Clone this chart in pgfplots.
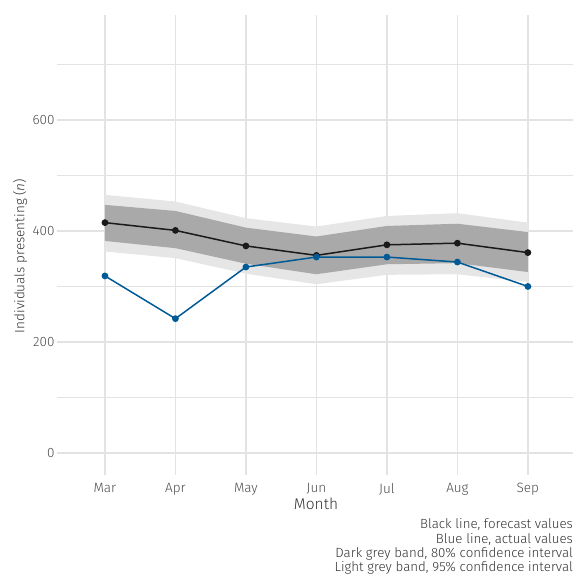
\documentclass[border=0pt]{standalone}
\usepackage{fontspec}
\IfFontExistsTF{Fira Sans Light}
  {\setmainfont{Fira Sans Light}[ItalicFont={Fira Sans Light Italic}]}
  {\setmainfont{Open Sans}}
\usepackage{pgfplots}
\pgfplotsset{compat=1.18}
\definecolor{actualblue}{HTML}{005A96}
\definecolor{fcblack}{HTML}{1A1A1A}
\definecolor{band80}{HTML}{A9A9A9}
\definecolor{band95}{HTML}{E6E6E6}
\definecolor{gridgrey}{HTML}{E3E3E3}
\definecolor{ticktext}{HTML}{4D4D4D}
\definecolor{titletext}{HTML}{333333}
\begin{document}
\begin{tikzpicture}[x=1pt,y=1pt]
\path[use as bounding box] (-57,-101) rectangle (516,475);
\begin{axis}[
  at={(0,0)}, anchor=south west,
  scale only axis, width=516pt, height=460pt,
  xmin=-0.68, xmax=6.64,
  ymin=-39.6, ymax=789,
  axis line style={draw=none},
  xtick={0,1,2,3,4,5,6},
  xticklabels={Mar,Apr,May,Jun,Jul,Aug,Sep},
  ytick={0,200,400,600},
  minor ytick={100,300,500,700},
  grid=both,
  major grid style={draw=gridgrey, line width=1.4pt},
  minor grid style={draw=gridgrey, line width=1.4pt},
  major tick length=0pt, minor tick length=0pt,
  tick style={draw=none},
  /pgf/number format/assume math mode=true,
  ticklabel style={font=\fontsize{13.5}{15}\selectfont, text=ticktext},
  xticklabel style={yshift=-5pt},
  yticklabel style={xshift=1pt},
  clip=false,
]
% 95% band
\addplot[fill=band95, draw=none] coordinates {
 (0,465) (1,453) (2,423) (3,408) (4,427) (5,432) (6,415)
 (6,308) (5,322) (4,321) (3,304) (2,323) (1,351) (0,363)} -- cycle;
% 80% band
\addplot[fill=band80, draw=none] coordinates {
 (0,447) (1,436) (2,406) (3,390) (4,409) (5,413) (6,398)
 (6,326) (5,342) (4,340) (3,322) (2,341) (1,369) (0,382)} -- cycle;
% forecast
\addplot[color=fcblack, line width=1.5pt, mark=*, mark size=2.6pt] coordinates {
 (0,415) (1,401) (2,373) (3,356) (4,375) (5,378) (6,361)};
% actual
\addplot[color=actualblue, line width=1.5pt, mark=*, mark size=2.6pt] coordinates {
 (0,319) (1,242) (2,335) (3,353) (4,353) (5,344) (6,300)};
\end{axis}
\node[font=\fontsize{15.5}{17}\selectfont, text=titletext] at (259,-29) {Month};
\node[font=\fontsize{13.5}{15}\selectfont, text=titletext, rotate=90] at (-37,219) {Individuals presenting (\textit{n})};
\node[font=\fontsize{13.3}{14.2}\selectfont, text=titletext, align=right, anchor=south east, inner sep=0pt] at (516,-99.5) {Black line, forecast values\\Blue line, actual values\\Dark grey band, 80\% confidence interval\\Light grey band, 95\% confidence interval};
\end{tikzpicture}
\end{document}
